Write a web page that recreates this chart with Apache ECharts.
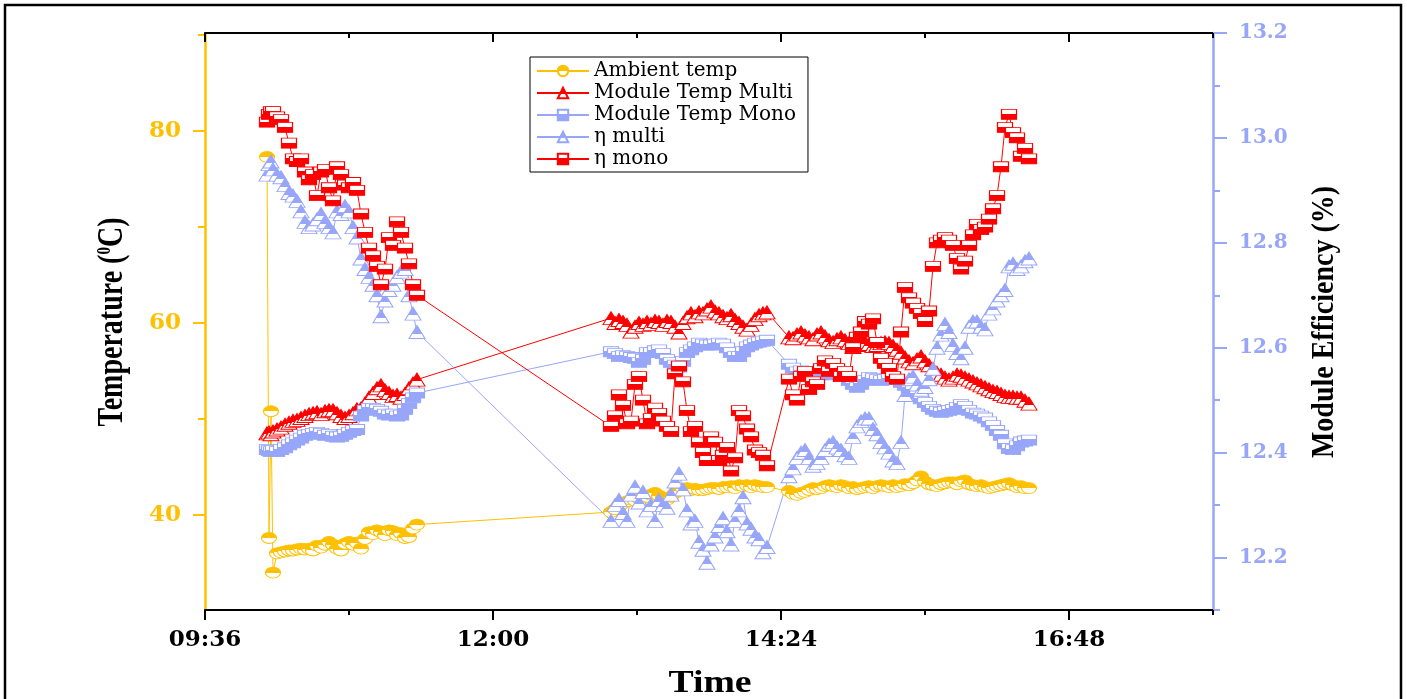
<!DOCTYPE html>
<html>
<head>
<meta charset="utf-8">
<script src="https://cdn.jsdelivr.net/npm/echarts@6/dist/echarts.min.js"></script>
<style>
  html, body { margin: 0; padding: 0; background: #ffffff; }
  #chart { width: 1407px; height: 699px; }
</style>
</head>
<body>
<div id="chart"></div>
<script>
// Logging times (HH:MM), shared by all five series
const times = [
  '10:07','10:08','10:09','10:10','10:12','10:14','10:16','10:18','10:20','10:22',
  '10:24','10:26','10:28','10:30','10:32','10:34','10:36','10:38','10:40','10:42',
  '10:44','10:46','10:48','10:50','10:52','10:54','10:56','10:58','11:00','11:02',
  '11:04','11:06','11:08','11:10','11:12','11:14','11:16','11:18','11:20','11:22',
  '12:59','13:01','13:03','13:05','13:07','13:09','13:11','13:13','13:15','13:17',
  '13:19','13:21','13:23','13:25','13:27','13:29','13:31','13:33','13:35','13:37',
  '13:39','13:41','13:43','13:45','13:47','13:49','13:51','13:53','13:55','13:57',
  '13:59','14:01','14:03','14:05','14:07','14:09','14:11','14:13','14:15','14:17',
  '14:28','14:30','14:32','14:34','14:36','14:38','14:40','14:42','14:44','14:46',
  '14:48','14:50','14:52','14:54','14:56','14:58','15:00','15:02','15:04','15:06',
  '15:08','15:10','15:12','15:14','15:16','15:18','15:20','15:22','15:24','15:26',
  '15:28','15:30','15:32','15:34','15:36','15:38','15:40','15:42','15:44','15:46',
  '15:48','15:50','15:52','15:54','15:56','15:58','16:00','16:02','16:04','16:06',
  '16:08','16:10','16:12','16:14','16:16','16:18','16:20','16:22','16:24','16:26',
  '16:28'
];

// Temperatures (°C)
const ambientTemp = [
  77.3, 37.6, 50.8, 34.0, 36.0, 36.1, 36.2, 36.3, 36.3, 36.4,
  36.5, 36.4, 36.5, 36.3, 36.8, 36.6, 36.9, 37.2, 36.9, 36.5,
  36.3, 37.0, 37.2, 36.9, 37.1, 36.5, 37.5, 38.2, 38.0, 38.4,
  38.2, 37.9, 38.4, 38.3, 37.9, 38.1, 37.6, 37.7, 38.6, 39.0,
  40.3, 40.6, 40.9, 41.2, 41.4, 41.6, 41.5, 41.7, 41.8, 41.9,
  42.1, 42.3, 42.0, 41.8, 41.6, 41.9, 42.3, 42.5, 42.7, 42.8,
  42.6, 42.7, 42.6, 42.6, 42.7, 42.8, 42.8, 42.7, 42.9, 42.9,
  43.0, 42.8, 43.1, 43.0, 43.1, 42.9, 43.1, 43.0, 42.9, 42.9,
  42.5, 42.2, 42.1, 42.3, 42.4, 42.6, 42.8, 42.7, 42.8, 43.0,
  43.1, 43.0, 42.9, 43.1, 43.0, 42.8, 42.9, 42.7, 42.8, 42.9,
  43.0, 42.8, 43.0, 43.1, 43.0, 42.9, 43.1, 42.9, 43.0, 43.2,
  43.1, 43.3, 43.6, 44.0, 43.5, 43.2, 43.1, 43.0, 43.2, 43.3,
  43.4, 43.4, 43.2, 43.5, 43.6, 43.2, 43.1, 43.0, 43.1, 42.9,
  42.8, 42.9, 43.0, 43.1, 43.2, 43.3, 43.1, 42.9, 43.0, 42.8,
  42.8
];
const moduleTempMulti = [
  48.5, 48.6, 48.4, 48.7, 48.9, 49.1, 49.4, 49.6, 49.8, 49.9,
  50.1, 50.3, 50.5, 50.6, 50.7, 50.5, 50.8, 50.9, 50.9, 50.6,
  50.3, 50.1, 50.3, 50.6, 51.0, 51.1, 51.6, 52.2, 52.7, 53.2,
  53.5, 53.0, 52.7, 52.4, 52.5, 52.2, 52.6, 53.2, 53.7, 54.1,
  60.5, 60.0, 60.3, 60.1, 59.8, 59.1, 59.6, 60.0, 59.8, 60.1,
  59.9, 60.2, 60.1, 59.8, 60.2, 60.1, 59.6, 59.0, 60.0, 60.6,
  61.0, 60.7, 61.1, 61.0, 61.4, 61.7, 61.2, 61.0, 60.7, 60.5,
  60.8, 60.3, 60.0, 59.6, 59.3, 59.8, 60.4, 60.8, 61.0, 61.1,
  58.5, 58.4, 58.8, 59.0, 58.7, 58.5, 58.3, 58.8, 59.0, 58.6,
  58.2, 58.0, 58.3, 58.5, 58.2, 57.9, 57.5, 57.7, 57.9, 58.0,
  57.8, 57.6, 57.7, 57.9, 58.0, 57.9, 57.6, 57.2, 56.9, 56.4,
  56.0, 55.8, 56.2, 56.5, 56.0, 55.6, 55.2, 54.8, 54.6, 54.3,
  54.1, 54.3, 54.6, 54.5, 54.3, 54.1, 53.9, 53.7, 53.5, 53.3,
  53.1, 52.9, 52.8, 52.6, 52.4, 52.3, 52.3, 52.2, 52.2, 51.9,
  51.6
];
const moduleTempMono = [
  46.8, 46.7, 46.6, 46.7, 46.6, 46.8, 47.0, 47.3, 47.5, 47.8,
  48.0, 48.3, 48.4, 48.5, 48.6, 48.5, 48.3, 48.4, 48.2, 48.1,
  48.2, 48.4, 48.6, 48.8, 48.9, 50.3, 50.9, 51.1, 51.1, 51.0,
  50.8, 50.5, 50.4, 50.5, 50.3, 50.4, 51.0, 51.6, 52.2, 52.7,
  57.0, 56.8, 56.5, 56.6, 56.5, 56.4, 56.3, 55.9, 56.2, 56.9,
  56.9, 57.1, 57.2, 56.8, 56.2, 55.9, 55.6, 55.4, 56.0, 56.9,
  57.2, 57.5, 57.9, 57.8, 57.7, 57.7, 57.8, 57.9, 57.8, 57.4,
  56.9, 56.5, 56.5, 57.0, 57.5, 57.7, 57.9, 58.0, 58.1, 58.2,
  55.7, 55.3, 54.9, 55.0, 54.8, 54.8, 54.9, 54.7, 54.6, 54.6,
  54.8, 54.9, 55.0, 54.9, 54.6, 54.0, 53.6, 53.3, 53.6, 54.0,
  54.3, 54.2, 54.1, 54.0, 54.1, 54.2, 54.1, 54.1, 53.8, 53.5,
  53.2, 53.0, 52.6, 52.1, 51.7, 51.3, 51.0, 50.8, 50.7, 50.8,
  50.9, 51.0, 51.2, 51.5, 51.3, 50.9, 50.6, 50.5, 50.3, 50.1,
  49.7, 49.3, 48.8, 48.3, 47.4, 46.9, 46.8, 47.2, 47.6, 47.7,
  47.8
];

// Module efficiencies (%)
const etaMulti = [
  12.93, 12.95, 12.955, 12.94, 12.93, 12.925, 12.91, 12.895, 12.89, 12.88,
  12.86, 12.84, 12.83, 12.835, 12.845, 12.855, 12.84, 12.83, 12.82, 12.86,
  12.855, 12.87, 12.86, 12.83, 12.81, 12.77, 12.75, 12.735, 12.72, 12.70,
  12.66, 12.69, 12.71, 12.72, 12.735, 12.745, 12.75, 12.70, 12.665, 12.63,
  12.27, 12.30, 12.31, 12.285, 12.27, 12.32, 12.335, 12.305, 12.325, 12.29,
  12.30, 12.27, 12.31, 12.30, 12.295, 12.32, 12.345, 12.36, 12.33, 12.29,
  12.265, 12.27, 12.23, 12.215, 12.19, 12.225, 12.24, 12.26, 12.275, 12.25,
  12.225, 12.27, 12.29, 12.315, 12.265, 12.255, 12.24, 12.235, 12.21, 12.22,
  12.355, 12.37, 12.39, 12.40, 12.405, 12.39, 12.375, 12.38, 12.39, 12.405,
  12.415, 12.42, 12.41, 12.405, 12.395, 12.39, 12.43, 12.45, 12.46, 12.465,
  12.465, 12.445, 12.435, 12.42, 12.41, 12.40, 12.385, 12.38, 12.42, 12.51,
  12.54, 12.545, 12.53, 12.52, 12.525, 12.54, 12.56, 12.60, 12.625, 12.645,
  12.63, 12.605, 12.59, 12.58, 12.60, 12.64, 12.65, 12.65, 12.64, 12.635,
  12.665, 12.675, 12.69, 12.70, 12.71, 12.755, 12.76, 12.75, 12.755, 12.765,
  12.77
];
const etaMono = [
  13.03, 13.045, 13.05, 13.05, 13.04, 13.035, 13.02, 12.99, 12.96, 12.955,
  12.96, 12.935, 12.92, 12.93, 12.89, 12.935, 12.94, 12.905, 12.88, 12.945,
  12.93, 12.91, 12.905, 12.915, 12.90, 12.855, 12.82, 12.79, 12.775, 12.755,
  12.72, 12.75, 12.81, 12.795, 12.84, 12.82, 12.79, 12.76, 12.72, 12.70,
  12.45, 12.47, 12.51, 12.49, 12.455, 12.46, 12.53, 12.545, 12.50, 12.455,
  12.465, 12.485, 12.475, 12.46, 12.45, 12.44, 12.55, 12.565, 12.535, 12.48,
  12.44, 12.45, 12.42, 12.40, 12.385, 12.43, 12.42, 12.385, 12.395, 12.41,
  12.365, 12.39, 12.48, 12.47, 12.445, 12.43, 12.405, 12.40, 12.395, 12.375,
  12.54, 12.51, 12.50, 12.545, 12.555, 12.52, 12.535, 12.53, 12.56, 12.575,
  12.555, 12.57, 12.56, 12.545, 12.555, 12.545, 12.60, 12.62, 12.63, 12.65,
  12.645, 12.655, 12.61, 12.58, 12.57, 12.56, 12.545, 12.54, 12.63, 12.715,
  12.695, 12.685, 12.675, 12.665, 12.65, 12.67, 12.755, 12.80, 12.805, 12.81,
  12.805, 12.795, 12.77, 12.75, 12.765, 12.795, 12.815, 12.835, 12.825, 12.83,
  12.845, 12.865, 12.89, 12.945, 13.02, 13.045, 13.01, 13.00, 12.965, 12.98,
  12.96
];

// Axis tick labels
const timeTickLabels = ['09:36', '12:00', '14:24', '16:48'];
const timeMinorTicks = ['10:48', '13:12', '15:36', '18:00'];
const tempTickLabels = [40, 60, 80];
const tempMinorTicks = [50, 70, 90];
const effTickLabels = [12.2, 12.4, 12.6, 12.8, 13.0, 13.2];
const effMinorTicks = [12.1, 12.3, 12.5, 12.7, 12.9, 13.1];

const YELLOW = '#FFC000';
const RED = '#FF0000';
const BLUE = '#97A6F9';
const SERIF = 'DejaVu Serif';

function toMinutes(s) {
  const p = s.split(':');
  return Number(p[0]) * 60 + Number(p[1]);
}
function fmtTime(m) {
  const h = Math.floor(m / 60), mm = Math.round(m % 60);
  return String(h).padStart(2, '0') + ':' + String(mm).padStart(2, '0');
}
const tMin = times.map(toMinutes);
function pairs(values) {
  return values.map((v, i) => [tMin[i], v]);
}
// half-filled marker: one half in colour, the other white
function halfFill(color, split, filledTop) {
  const stops = filledTop
    ? [{ offset: 0, color: color }, { offset: split, color: color },
       { offset: split, color: '#ffffff' }, { offset: 1, color: '#ffffff' }]
    : [{ offset: 0, color: '#ffffff' }, { offset: split, color: '#ffffff' },
       { offset: split, color: color }, { offset: 1, color: color }];
  return { type: 'linear', x: 0, y: 0, x2: 0, y2: 1, colorStops: stops };
}
function makeSeries(name, values, yIdx, color, symbol, size, split, filledTop) {
  return {
    name: name,
    type: 'line',
    xAxisIndex: 0,
    yAxisIndex: yIdx,
    data: pairs(values),
    symbol: symbol,
    symbolSize: size,
    showSymbol: true,
    showAllSymbol: true,
    lineStyle: { color: color, width: 1 },
    itemStyle: { color: halfFill(color, split, filledTop), borderColor: color, borderWidth: 1 },
    emphasis: { disabled: true },
    animation: false
  };
}

const majorX = timeTickLabels.map(toMinutes);
const minorX = timeMinorTicks.map(toMinutes);

const chart = echarts.init(document.getElementById('chart'), null, { renderer: 'canvas' });
chart.setOption({
  backgroundColor: '#ffffff',
  animation: false,
  grid: { left: 205, right: 194, top: 33, bottom: 89 },
  legend: {
    orient: 'vertical',
    left: 530,
    top: 57,
    padding: [4, 12, 3, 6],
    itemWidth: 52,
    itemHeight: 13,
    itemGap: 2,
    backgroundColor: '#ffffff',
    borderColor: '#000000',
    borderWidth: 1,
    borderRadius: 0,
    textStyle: { fontFamily: SERIF, fontSize: 20, color: '#000000' },
    selectedMode: false
  },
  xAxis: [
    {
      type: 'value', position: 'bottom', min: 576, max: 1080,
      axisLine: { show: true, onZero: false, lineStyle: { color: '#000', width: 2 } },
      axisTick: { show: true, customValues: majorX, length: 10, lineStyle: { color: '#000', width: 2 } },
      axisLabel: {
        customValues: majorX, formatter: v => fmtTime(v), margin: 19,
        fontFamily: SERIF, fontWeight: 'bold', fontSize: 23, color: '#000'
      },
      splitLine: { show: false }
    },
    {
      type: 'value', position: 'bottom', min: 576, max: 1080,
      axisLine: { show: false },
      axisTick: { show: true, customValues: minorX, length: 5, lineStyle: { color: '#000', width: 2 } },
      axisLabel: { show: false },
      splitLine: { show: false }
    },
    {
      type: 'value', position: 'top', min: 576, max: 1080,
      axisLine: { show: true, onZero: false, lineStyle: { color: '#000', width: 2 } },
      axisTick: { show: true, inside: true, customValues: majorX, length: 9, lineStyle: { color: '#000', width: 2 } },
      axisLabel: { show: false },
      splitLine: { show: false }
    },
    {
      type: 'value', position: 'top', min: 576, max: 1080,
      axisLine: { show: false },
      axisTick: { show: true, inside: true, customValues: minorX, length: 5, lineStyle: { color: '#000', width: 2 } },
      axisLabel: { show: false },
      splitLine: { show: false }
    }
  ],
  yAxis: [
    {
      type: 'value', position: 'left', min: 30.1, max: 90.2,
      axisLine: { show: true, onZero: false, lineStyle: { color: YELLOW, width: 2.5 } },
      axisTick: { show: true, customValues: tempTickLabels, length: 12, lineStyle: { color: YELLOW, width: 2 } },
      axisLabel: {
        customValues: tempTickLabels, margin: 24,
        fontFamily: SERIF, fontWeight: 'bold', fontSize: 23, color: YELLOW
      },
      splitLine: { show: false }
    },
    {
      type: 'value', position: 'right', min: 12.1, max: 13.2,
      axisLine: { show: true, onZero: false, lineStyle: { color: BLUE, width: 2.5 } },
      axisTick: { show: true, customValues: effTickLabels, length: 14, lineStyle: { color: BLUE, width: 2 } },
      axisLabel: {
        customValues: effTickLabels, formatter: v => Number(v).toFixed(1), margin: 26,
        fontFamily: SERIF, fontWeight: 'bold', fontSize: 20, color: BLUE
      },
      splitLine: { show: false }
    },
    {
      type: 'value', position: 'left', min: 30.1, max: 90.2,
      axisLine: { show: false },
      axisTick: { show: true, customValues: tempMinorTicks, length: 7, lineStyle: { color: YELLOW, width: 2 } },
      axisLabel: { show: false },
      splitLine: { show: false }
    },
    {
      type: 'value', position: 'right', min: 12.1, max: 13.2,
      axisLine: { show: false },
      axisTick: { show: true, customValues: effMinorTicks, length: 7, lineStyle: { color: BLUE, width: 2 } },
      axisLabel: { show: false },
      splitLine: { show: false }
    }
  ],
  series: [
    makeSeries('Ambient temp', ambientTemp, 0, YELLOW, 'circle', [15, 11], 0.5, true),
    makeSeries('Module Temp Multi', moduleTempMulti, 0, RED, 'triangle', [16, 13], 0.62, true),
    makeSeries('Module Temp Mono', moduleTempMono, 0, BLUE, 'rect', [15, 10], 0.4, false),
    makeSeries('η multi', etaMulti, 1, BLUE, 'triangle', [16, 13], 0.62, true),
    makeSeries('η mono', etaMono, 1, RED, 'rect', [15, 10], 0.45, false)
  ],
  graphic: [
    {
      type: 'rect', silent: true, z: 100,
      shape: { x: 5, y: 5, width: 1396, height: 720 },
      style: { fill: 'none', stroke: '#000000', lineWidth: 2.5 }
    },
    {
      type: 'text', silent: true, x: 113, y: 322, rotation: Math.PI / 2, scaleY: 1.25,
      style: {
        text: 'Temperature ({s|0}C)',
        fontFamily: 'Liberation Serif', fontWeight: 'bold', fontSize: 28, fill: '#000',
        align: 'center', verticalAlign: 'middle',
        rich: { s: { fontFamily: 'Liberation Serif', fontWeight: 'bold', fontSize: 15, fill: '#000', verticalAlign: 'top' } }
      }
    },
    {
      type: 'text', silent: true, x: 1325, y: 322, rotation: Math.PI / 2, scaleY: 1.15,
      style: {
        text: 'Module Efficiency (%)',
        fontFamily: 'Liberation Serif', fontWeight: 'bold', fontSize: 28, fill: '#000',
        align: 'center', verticalAlign: 'middle'
      }
    },
    {
      type: 'text', silent: true, x: 710, y: 684, scaleX: 1.18,
      style: {
        text: 'Time',
        fontFamily: 'Liberation Serif', fontWeight: 'bold', fontSize: 32, fill: '#000',
        align: 'center', verticalAlign: 'middle'
      }
    }
  ]
});
</script>
</body>
</html>
